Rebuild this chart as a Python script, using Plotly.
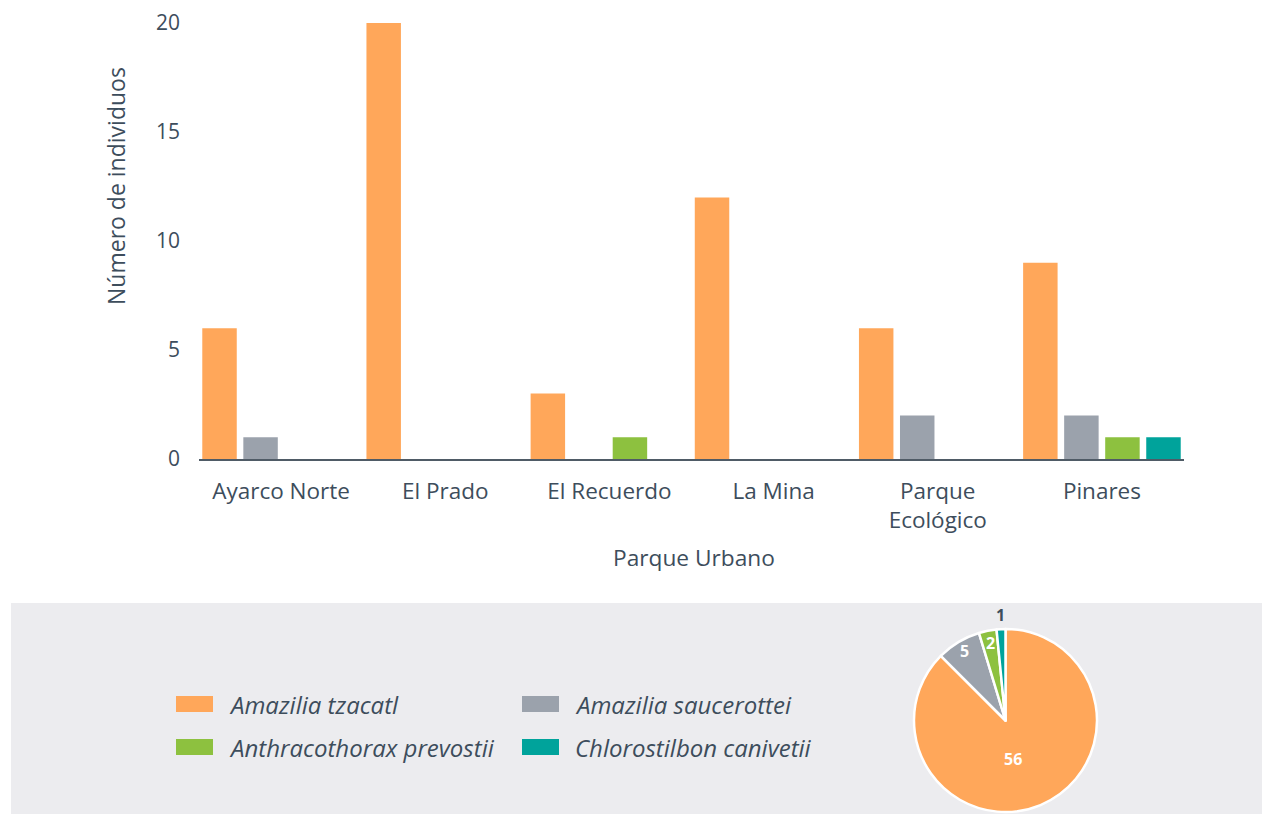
import math
import plotly.graph_objects as go

W, H = 1262, 814

parks = ["Ayarco Norte", "El Prado", "El Recuerdo", "La Mina", "Parque Ecológico", "Pinares"]
park_ticks = ["Ayarco Norte", "El Prado", "El Recuerdo", "La Mina", "Parque<br>Ecológico", "Pinares"]
species = ["Amazilia tzacatl", "Amazilia saucerottei", "Anthracothorax prevostii", "Chlorostilbon canivetii"]
colors = ["#FFA75A", "#9BA2AC", "#8DC13F", "#00A39B"]

a_tzacatl = [6, 20, 3, 12, 6, 9]
a_saucerottei = [1, 0, 0, 0, 2, 2]
a_prevostii = [0, 0, 1, 0, 0, 1]
c_canivetii = [0, 0, 0, 0, 0, 1]
series = [a_tzacatl, a_saucerottei, a_prevostii, c_canivetii]

totals = [56, 5, 2, 1]

y_ticks = [0, 5, 10, 15, 20]

TEXT = "#3D4D5C"
FONT = "Open Sans"

def px(x):
    return x / W

def py(y):
    return 1 - y / H

fig = go.Figure()

for name, vals, col in zip(species, series, colors):
    fig.add_trace(go.Bar(x=parks, y=vals, name=name, marker=dict(color=col, line=dict(width=0)),
                         showlegend=False, xaxis="x", yaxis="y"))

# pie geometry (pixels)
PIE_L, PIE_R, PIE_T, PIE_B = 914, 1097, 629, 812
cx, cy = (PIE_L + PIE_R) / 2, (PIE_T + PIE_B) / 2
rad = (PIE_R - PIE_L) / 2

fig.add_trace(go.Pie(
    values=totals, labels=species, sort=False, direction="clockwise", rotation=0,
    marker=dict(colors=colors, line=dict(color="white", width=2.5)),
    textinfo="none",
    domain=dict(x=[px(PIE_L), px(PIE_R)], y=[py(PIE_B), py(PIE_T)]),
    showlegend=False,
))

shapes = [dict(type="rect", xref="paper", yref="paper", x0=px(11), x1=1.0, y0=0, y1=py(603),
               fillcolor="#ECECEF", line=dict(width=0), layer="below")]

annotations = [
    dict(text="Parque Urbano", xref="paper", yref="paper", x=px(694), y=py(557), showarrow=False,
         xanchor="center", yanchor="middle", font=dict(family=FONT, size=22.7, color=TEXT)),
    dict(text="Número de individuos", xref="paper", yref="paper", x=px(116), y=py(186), showarrow=False,
         xanchor="center", yanchor="middle", textangle=-90, font=dict(family=FONT, size=23, color=TEXT)),
]

# pie value labels, placed by angle (measured clockwise from 12 o'clock) and radial fraction
label_ang_shift = [11.5, 0, 0, 0]      # degrees added to the slice mid-angle
label_rf = [0.43, 0.88, 0.86, 1.15]
label_col = ["white", "white", "white", TEXT]
tot = sum(totals)
cum = 0
for v, sh, rf, lc in zip(totals, label_ang_shift, label_rf, label_col):
    mid = (cum + v / 2) / tot * 2 * math.pi + math.radians(sh)
    cum += v
    lx = cx + rf * rad * math.sin(mid)
    ly = cy - rf * rad * math.cos(mid)
    annotations.append(dict(text=f"<b>{v}</b>", xref="paper", yref="paper", x=px(lx), y=py(ly),
                            showarrow=False, xanchor="center", yanchor="middle",
                            font=dict(family=FONT, size=16, color=lc)))

leg_pos = [(176, 704), (522, 704), (176, 747), (522, 747)]
for (lx, ly), name, col in zip(leg_pos, species, colors):
    shapes.append(dict(type="rect", xref="paper", yref="paper", x0=px(lx), x1=px(lx + 37),
                       y0=py(ly + 8), y1=py(ly - 8), fillcolor=col, line=dict(width=0)))
    annotations.append(dict(text=f"<i>{name}</i>", xref="paper", yref="paper", x=px(lx + 51), y=py(ly),
                            showarrow=False, xanchor="left", yanchor="middle",
                            font=dict(family=FONT, size=24, color=TEXT)))

fig.update_layout(
    width=W, height=H, autosize=False, template="none",
    margin=dict(l=0, r=0, t=0, b=0, pad=0),
    paper_bgcolor="white", plot_bgcolor="white",
    barmode="group", bargap=0.0, bargroupgap=0.16,
    font=dict(family=FONT, color=TEXT),
    xaxis=dict(domain=[px(199), px(1184)], showline=True, linecolor="#4F5B66", linewidth=2,
               showgrid=False, zeroline=False, ticks="", tickvals=parks, ticktext=park_ticks,
               tickfont=dict(family=FONT, size=22.5, color=TEXT), ticklabelstandoff=11),
    yaxis=dict(domain=[py(459), py(23)], range=[0, 20], showline=False, showgrid=False, zeroline=False,
               ticks="", tickvals=y_ticks, tickfont=dict(family=FONT, size=21, color=TEXT),
               ticklabelstandoff=18),
    shapes=shapes, annotations=annotations,
)

fig.write_html("out.html", config={"displayModeBar": False},
               post_script="document.body.style.margin='0';document.body.style.overflow='hidden';")
